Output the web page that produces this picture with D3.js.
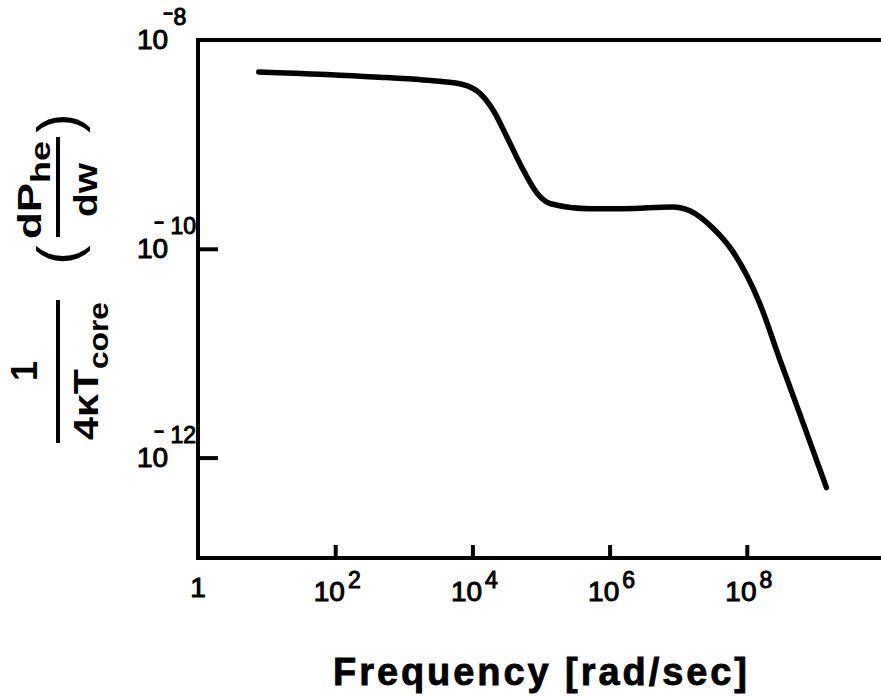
<!DOCTYPE html>
<html>
<head>
<meta charset="utf-8">
<script src="https://cdn.jsdelivr.net/npm/d3@7"></script>
<style>
body { margin: 0; background: #fff; }
text { font-family: "Liberation Sans", Arial, sans-serif; fill: #000; }
</style>
</head>
<body>
<svg id="main"></svg>
<script>
// (rad/sec vs normalised power density)
var freq = [7.7, 372, 1950, 6760, 1.32e4, 2.04e4, 3.24e4, 5.6e4, 8.9e4, 1.38e5,
	5.2e5, 1.58e6, 8.3e6, 1.48e7, 3.16e7, 6.2e7, 1.55e8, 3.0e8, 5.9e8, 1.45e9];
var power = [4.94e-9, 4.43e-9, 4.14e-9, 3.79e-9, 3.04e-9, 2.09e-9, 1.15e-9, 5.57e-10, 3.36e-10, 2.70e-10,
	2.42e-10, 2.42e-10, 2.52e-10, 2.31e-10, 1.59e-10, 9.5e-11, 2.98e-11, 8.85e-12, 2.64e-12, 5.16e-13];
var xTicks = [1e2, 1e4, 1e6, 1e8];
var xExp = ['2', '4', '6', '8'];
var yTicks = [1e-8, 1e-10, 1e-12];
var yExp = ['8', '10', '12'];

var width = 881, height = 697;
var svg = d3.select('#main').attr('width', width).attr('height', height);

var x = d3.scaleLog().domain([1, 1e10]).range([198, 884]);
var y = d3.scaleLog().domain([1e-13, 1e-8]).range([562, 40]);
var x0 = 198, yBottom = 558, yTop = y(1e-8), right = 881;

var lw = 4;

// frame: left axis, top rule, bottom axis
var frame = svg.append('g').attr('stroke', '#000').attr('stroke-width', lw).attr('fill', 'none');
frame.append('path').attr('d', `M${right},${yTop}H${x0}V${yBottom}H${right}`)
	.attr('stroke-linejoin', 'miter');

// x ticks (pointing inward)
var xAxis = svg.append('g').attr('transform', `translate(0,${yBottom})`)
	.call(d3.axisBottom(x).tickValues(xTicks).tickSizeInner(-13).tickSizeOuter(0).tickFormat(() => ''));
xAxis.select('.domain').remove();
xAxis.selectAll('.tick line').attr('stroke', '#000').attr('stroke-width', lw);

// y ticks
var yAxis = svg.append('g').attr('transform', `translate(${x0},0)`)
	.call(d3.axisLeft(y).tickValues(yTicks.slice(1)).tickSizeInner(-20).tickSizeOuter(0).tickFormat(() => ''));
yAxis.select('.domain').remove();
yAxis.selectAll('.tick line').attr('stroke', '#000').attr('stroke-width', lw);

// x tick labels
var lab = svg.append('g').attr('stroke', '#000').attr('stroke-width', 1);
lab.append('text').attr('x', x(1)).attr('y', 597).attr('text-anchor', 'middle')
	.attr('font-size', 28).text('1');
xTicks.forEach((v, i) => {
	var t = lab.append('text').attr('x', x(v) + 2).attr('y', 601).attr('text-anchor', 'middle')
		.attr('font-size', 28);
	t.append('tspan').text('10');
	t.append('tspan').attr('dx', 3).attr('dy', -13).attr('font-size', 23).text(xExp[i]);
});

// y tick labels: 10 with a raised, barred exponent (one text each)
yTicks.forEach((v, i) => {
	var ty = y(v);
	var two = yExp[i].length > 1;
	var t = lab.append('text').attr('x', 137).attr('y', ty + 9).attr('font-size', 28);
	t.append('tspan').text('10');
	t.append('tspan').attr('dx', two ? -14 : -5).attr('dy', -30)
		.attr('font-size', 16).attr('stroke-width', 1.5).text('\u2212');
	t.append('tspan').attr('dx', two ? 7 : 1).attr('dy', 6)
		.attr('font-size', 23).text(yExp[i]);
});

// curve
var line = d3.line()
	.x((d, i) => x(freq[i]))
	.y((d, i) => y(power[i]))
	.curve(d3.curveMonotoneX);
svg.append('path').datum(freq)
	.attr('d', line)
	.attr('fill', 'none')
	.attr('stroke', '#000')
	.attr('stroke-width', 5.5)
	.attr('stroke-linecap', 'round')
	.attr('stroke-linejoin', 'round');

// x title
svg.append('text').attr('x', 540).attr('y', 685).attr('text-anchor', 'middle')
	.attr('font-size', 38).attr('font-weight', 'bold')
	.attr('stroke', '#000').attr('stroke-width', 0.8)
	.attr('textLength', 414).attr('lengthAdjust', 'spacing')
	.text('Frequency [rad/sec]');

// y title: 1/(4κT_core) (dP_he/dw), rotated
var bold = g => g.attr('font-weight', 'bold');
var f1 = svg.append('g').attr('transform', 'translate(58,371) rotate(-90)').call(bold);
f1.append('text').attr('x', 0).attr('y', -21).attr('text-anchor', 'middle').attr('font-size', 36).text('1');
f1.append('line').attr('x1', -72).attr('x2', 71).attr('stroke', '#000').attr('stroke-width', lw);
var den1 = f1.append('text').attr('x', 0).attr('y', 40).attr('text-anchor', 'middle')
	.attr('font-size', 35).attr('textLength', 138).attr('lengthAdjust', 'spacingAndGlyphs');
den1.append('tspan').text('4\u03BAT');
den1.append('tspan').attr('dy', 10).attr('font-size', 27).text('core');

var f2 = svg.append('g').attr('transform', 'translate(58,187) rotate(-90)').call(bold);
f2.append('text').attr('x', -68).attr('y', 20).attr('text-anchor', 'middle').attr('font-size', 58)
	.attr('font-weight', 'normal').text('(');
f2.append('text').attr('x', 64).attr('y', 20).attr('text-anchor', 'middle').attr('font-size', 58)
	.attr('font-weight', 'normal').text(')');
var num2 = f2.append('text').attr('x', -3).attr('y', -17).attr('text-anchor', 'middle')
	.attr('font-size', 33).attr('textLength', 98).attr('lengthAdjust', 'spacingAndGlyphs');
num2.append('tspan').text('dP');
num2.append('tspan').attr('dy', 9).attr('font-size', 27).text('he');
f2.append('line').attr('x1', -50).attr('x2', 50).attr('stroke', '#000').attr('stroke-width', lw);
f2.append('text').attr('x', -3).attr('y', 39).attr('text-anchor', 'middle')
	.attr('font-size', 33).attr('textLength', 54).attr('lengthAdjust', 'spacingAndGlyphs').text('dw');
</script>
</body>
</html>
